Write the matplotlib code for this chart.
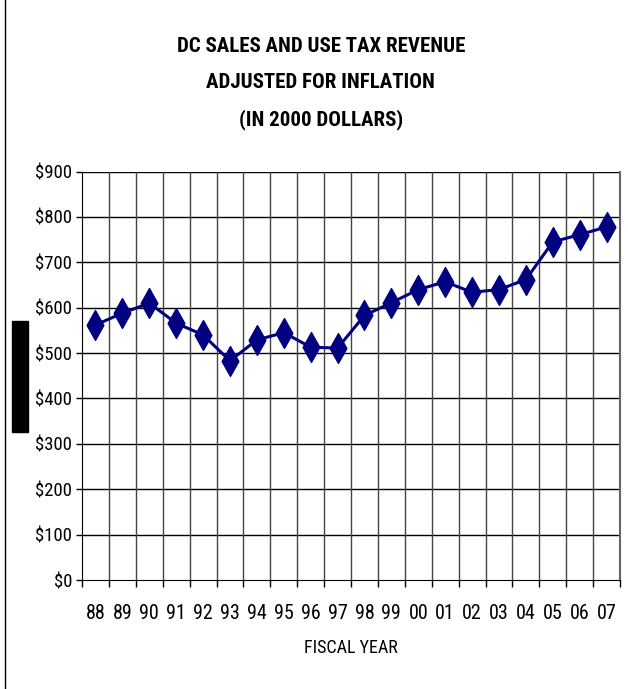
import numpy as np
import matplotlib.pyplot as plt
from matplotlib.path import Path
from matplotlib.patches import Rectangle
from matplotlib.lines import Line2D

years = ['88', '89', '90', '91', '92', '93', '94', '95', '96', '97',
         '98', '99', '00', '01', '02', '03', '04', '05', '06', '07']
revenue = [562, 588, 610, 566, 540, 483, 529, 545, 513, 511,
           583, 611, 640, 657, 634, 640, 662, 745, 761, 778]
y_ticks = [0, 100, 200, 300, 400, 500, 600, 700, 800, 900]

plt.rcParams['font.family'] = ['Roboto Condensed', 'Liberation Sans', 'DejaVu Sans']

fig = plt.figure(figsize=(6.28, 6.89), dpi=100)
ax = fig.add_axes([0.1306, 0.1582, 0.8567, 0.5928])

x = np.arange(len(years))
# diamond taller than wide, like the spreadsheet marker
diamond = Path([(0, 1), (0.56, 0), (0, -1), (-0.56, 0), (0, 1)],
               [Path.MOVETO, Path.LINETO, Path.LINETO, Path.LINETO, Path.CLOSEPOLY])
ax.plot(x, revenue, color='#000080', lw=2.2, marker=diamond, markersize=21.5,
        markerfacecolor='#000080', markeredgecolor='#000080', zorder=3)

ax.set_xlim(-0.5, len(years) - 0.5)
ax.set_ylim(0, 900)
ax.set_yticks(y_ticks)
ax.set_yticklabels(['$%d' % v for v in y_ticks])
ax.set_xticks(x)
ax.set_xticklabels(years)
ax.set_xticks(np.arange(-0.5, len(years)), minor=True)

# gridlines: horizontal black, vertical dark grey, between categories
for v in y_ticks[1:]:
    ax.axhline(v, color='black', lw=1, zorder=1)
for b in np.arange(0.5, len(years) - 0.5):
    ax.axvline(b, color='#444444', lw=1, zorder=1)

ax.tick_params(axis='x', which='major', length=0, pad=17, labelsize=14.5)
ax.tick_params(axis='x', which='minor', length=5, width=1, direction='out')
ax.tick_params(axis='y', length=4, width=1, direction='out', labelsize=13.5, pad=3)
ax.spines['top'].set_visible(False)
ax.spines['right'].set_color('#666666')
ax.spines['right'].set_linewidth(1.5)
ax.spines['left'].set_color('black')
ax.spines['bottom'].set_color('black')

ax.set_xlabel('FISCAL YEAR', fontsize=13, labelpad=12)

fig.text(0.511, 0.933, 'DC SALES AND USE TAX REVENUE', ha='center', va='center',
         fontsize=15, fontweight='bold')
fig.text(0.511, 0.880, 'ADJUSTED FOR INFLATION', ha='center', va='center',
         fontsize=15, fontweight='bold')
fig.text(0.511, 0.826, '(IN 2000 DOLLARS)', ha='center', va='center',
         fontsize=15, fontweight='bold')

# black block on the left and the frame edge
fig.patches.append(Rectangle((12 / 628, 1 - 432 / 689), 16 / 628, 111 / 689,
                             transform=fig.transFigure, color='black'))
fig.lines.append(Line2D([5 / 628, 5 / 628], [0, 1], transform=fig.transFigure,
                        color='black', lw=1))

fig.savefig('out.png', dpi=100)
